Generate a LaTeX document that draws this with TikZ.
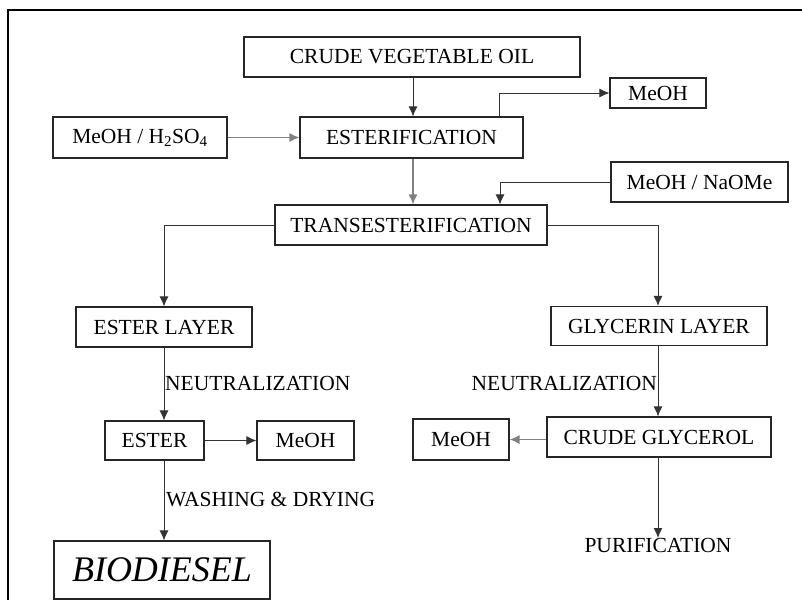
\documentclass[tikz,border=0pt]{standalone}
\usepackage{fontspec}
\setmainfont{Liberation Serif}
\usetikzlibrary{arrows.meta,calc}
\begin{document}
\begin{tikzpicture}[x=1pt,y=-1pt,
  box/.style={draw=black!85,line width=1.1pt,inner sep=0pt,font=\fontsize{21.5}{24}\selectfont},
  lbl/.style={inner sep=0pt,font=\fontsize{21.5}{24}\selectfont},
  arr/.style={draw=black!80,line width=1pt,-{Latex[length=10pt,width=9pt]}},
  garr/.style={draw=black!50,line width=1.3pt,-{Latex[length=10pt,width=9pt]}}]
\useasboundingbox (0,0) rectangle (802,600);
\draw[line width=2.5pt] (8,600) -- (8,10) -- (802,10);
% boxes
\node[box,minimum width=336pt,minimum height=40pt] (oil) at (412,57) {CRUDE VEGETABLE OIL};
\node[box,minimum width=96pt,minimum height=30pt] (meoha) at (658,93) {MeOH};
\node[box,minimum width=174pt,minimum height=41pt] (acid) at (140,137.5) {MeOH / H\textsubscript{2}SO\textsubscript{4}};
\node[box,minimum width=223pt,minimum height=41pt] (est) at (411.5,137.5) {ESTERIFICATION};
\node[box,minimum width=177pt,minimum height=40pt] (base) at (699.5,182) {MeOH / NaOMe};
\node[box,minimum width=272pt,minimum height=40pt] (trans) at (411,225) {TRANSESTERIFICATION};
\node[box,minimum width=176pt,minimum height=40pt] (elayer) at (164,327) {ESTER LAYER};
\node[box,minimum width=216pt,minimum height=39pt] (glayer) at (659,326) {GLYCERIN LAYER};
\node[box,minimum width=99pt,minimum height=39pt] (ester) at (154.5,440.5) {ESTER};
\node[box,minimum width=97pt,minimum height=39pt] (meohb) at (305.5,440.5) {MeOH};
\node[box,minimum width=96pt,minimum height=41pt] (meohc) at (461,439.5) {MeOH};
\node[box,minimum width=224pt,minimum height=40pt] (cglyc) at (659,437) {CRUDE GLYCEROL};
\node[box,minimum width=216pt,minimum height=58pt,font=\fontsize{36}{40}\selectfont\itshape] (bio) at (162,570) {BIODIESEL};
\node[lbl,anchor=north] (pur) at (658,538) {PURIFICATION};
% labels
\node[lbl,anchor=west] (neua) at (165,383) {NEUTRALIZATION};
\node[lbl,anchor=east] (neub) at (657,383) {NEUTRALIZATION};
\node[lbl,anchor=west] (wash) at (166,500) {WASHING \& DRYING};
% connectors
\draw[arr] (oil.south -| 413,0) -- (est.north -| 413,0);
\draw[garr] (acid.east) -- (est.west);
\draw[arr] (est.north -| 499,0) |- (meoha.west);
\draw[garr] (est.south -| 413,0) -- (trans.north -| 413,0);
\draw[arr] (base.west) -| (trans.north -| 500,0);
\draw[arr] (trans.west) -| (elayer.north);
\draw[arr] (trans.east) -| (glayer.north -| 658,0);
\draw[arr] (elayer.south) -- (ester.north -| 164,0);
\draw[arr] (ester.east) -- (meohb.west);
\draw[arr] (glayer.south -| 658,0) -- (cglyc.north -| 658,0);
\draw[garr] (cglyc.west |- meohc.east) -- (meohc.east);
\draw[arr] (ester.south -| 164,0) -- (bio.north -| 164,0);
\draw[arr] (cglyc.south -| 658,0) -- (pur.north);
\end{tikzpicture}
\end{document}
